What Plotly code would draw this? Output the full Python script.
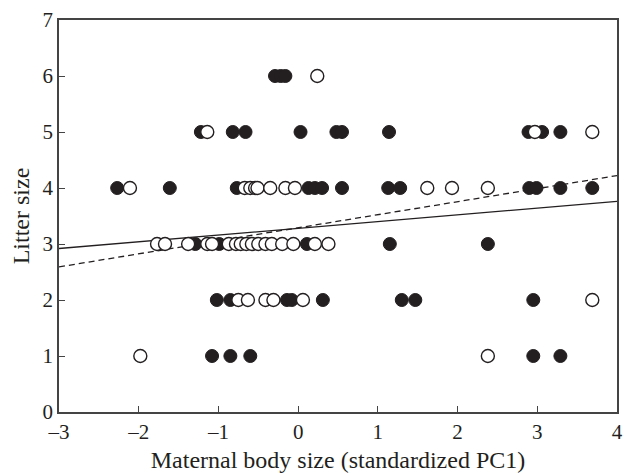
import plotly.graph_objects as go

# Filled circles (x = maternal body size, y = litter size)
filled_x = [-0.29, -0.22, -0.16,
            -1.22, -0.82, -0.66, 0.03, 0.48, 0.55, 1.14, 2.89, 3.06, 3.29,
            -2.27, -1.61, -0.77, 0.13, 0.21, 0.30, 0.55, 1.13, 1.28, 2.90, 2.99, 3.29, 3.69,
            -1.29, -0.99, 0.11, 1.15, 2.38,
            -1.02, -0.85, -0.14, -0.08, 0.31, 1.30, 1.47, 2.95,
            -1.08, -0.85, -0.60, 2.95, 3.29]
filled_y = [6, 6, 6,
            5, 5, 5, 5, 5, 5, 5, 5, 5, 5,
            4, 4, 4, 4, 4, 4, 4, 4, 4, 4, 4, 4, 4,
            3, 3, 3, 3, 3,
            2, 2, 2, 2, 2, 2, 2, 2,
            1, 1, 1, 1, 1]

# Open circles
open_x = [0.24,
          -1.14, 2.97, 3.69,
          -2.11, -0.67, -0.60, -0.54, -0.51, -0.35, -0.16, -0.04, 1.62, 1.93, 2.38,
          -1.77, -1.67, -1.38, -1.14, -1.08, -0.87, -0.78, -0.72, -0.65, -0.58, -0.50,
          -0.41, -0.33, -0.20, -0.06, 0.21, 0.38,
          -0.75, -0.63, -0.41, -0.31, 0.06, 3.69,
          -1.98, 2.38]
open_y = [6,
          5, 5, 5,
          4, 4, 4, 4, 4, 4, 4, 4, 4, 4, 4,
          3, 3, 3, 3, 3, 3, 3, 3, 3, 3, 3,
          3, 3, 3, 3, 3, 3,
          2, 2, 2, 2, 2, 2,
          1, 1]

# Regression lines: intercept, slope
solid_fit = [3.28, 0.12]
dashed_fit = [3.29, 0.233]
x_range = [-3, 4]

x_ticks = [-3, -2, -1, 0, 1, 2, 3, 4]
y_ticks = [0, 1, 2, 3, 4, 5, 6, 7]

ink = "#231f20"
fig = go.Figure()
fig.add_trace(go.Scatter(x=x_range, y=[solid_fit[0] + solid_fit[1] * v for v in x_range],
                         mode="lines", line=dict(color=ink, width=1.3), showlegend=False))
fig.add_trace(go.Scatter(x=x_range, y=[dashed_fit[0] + dashed_fit[1] * v for v in x_range],
                         mode="lines", line=dict(color=ink, width=1.3, dash="6px,4px"), showlegend=False))
fig.add_trace(go.Scatter(x=filled_x, y=filled_y, mode="markers",
                         marker=dict(size=13, color=ink, line=dict(color=ink, width=1)),
                         showlegend=False, cliponaxis=False))
fig.add_trace(go.Scatter(x=open_x, y=open_y, mode="markers",
                         marker=dict(size=13, color="white", line=dict(color=ink, width=1.4)),
                         showlegend=False, cliponaxis=False))

tick_font = dict(family="Liberation Serif, Times New Roman, serif", size=21, color=ink)
title_font = dict(family="Liberation Serif, Times New Roman, serif", size=24, color=ink)
axis_common = dict(showgrid=False, zeroline=False, showline=True, linecolor="#444", linewidth=1.5,
                   mirror=True, ticks="inside", ticklen=6, tickwidth=1.2, tickcolor="#444",
                   tickfont=tick_font, automargin=False)
fig.update_layout(
    width=624, height=473,
    margin=dict(l=59, r=7, t=20, b=61),
    paper_bgcolor="white", plot_bgcolor="white",
    font=tick_font,
    xaxis=dict(range=x_range, tickvals=x_ticks,
               ticktext=["\u2013" + str(-t) if t < 0 else str(t) for t in x_ticks],
               title=dict(text="Maternal body size (standardized PC1)", font=title_font, standoff=8),
               **axis_common),
    yaxis=dict(range=[0, 7], tickvals=y_ticks,
               title=dict(text="Litter size", font=title_font, standoff=6),
               **axis_common),
)
fig.write_html("out.html", config={"displayModeBar": False},
               post_script="document.body.style.margin='0';")
